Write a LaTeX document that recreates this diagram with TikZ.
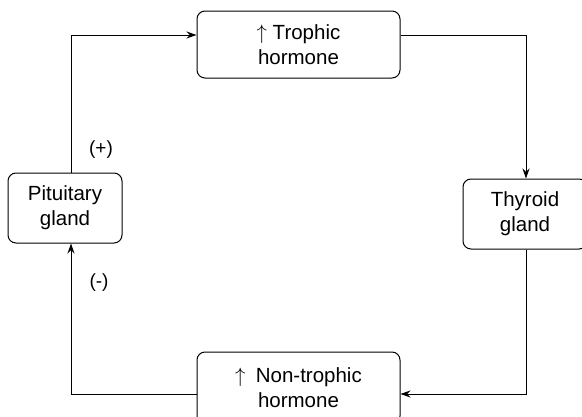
\documentclass[tikz,border=0pt]{standalone}
\usepackage{fontspec}
\setmainfont{Liberation Sans}
\usetikzlibrary{arrows.meta}
\begin{document}
\begin{tikzpicture}[x=1pt,y=-1pt,
  box/.style={draw, line width=1pt, rounded corners=8pt, align=center,
    font=\fontsize{20.5}{25}\selectfont, inner sep=0pt},
  conn/.style={line width=1pt, -{Stealth[length=10pt,width=7pt]}},
  sign/.style={font=\fontsize{19}{22}\selectfont, inner sep=0pt}]
\useasboundingbox (0,0) rectangle (582,416);
\clip (0,0) rectangle (582,416);
% boxes
\node[box, minimum width=203pt, minimum height=67pt] (troph) at (298.5,44.5) {$\uparrow$ Trophic\\hormone};
\node[box, minimum width=114pt, minimum height=70pt] (pit) at (65,208) {Pituitary\\gland};
\node[box, minimum width=124pt, minimum height=70pt] (thy) at (525,214) {Thyroid\\gland};
\node[box, minimum width=203pt, minimum height=72pt] (nont) at (298.5,388) {$\uparrow$\enspace Non-trophic\\hormone};
% routing lines
\coordinate (lx) at (71,0);
\coordinate (rx) at (526,0);
\coordinate (ty) at (0,35);
\coordinate (by) at (0,394);
% connectors
\draw[conn] (pit.north -| lx) |- (troph.west |- ty);
\draw[conn] (troph.east |- ty) -| (thy.north -| rx);
\draw[conn] (thy.south -| rx) |- (nont.east |- by);
\draw[conn] (nont.west |- by) -| (pit.south -| lx);
% signs
\node[sign] (plus) at (101,150) {(+)};
\node[sign] (minus) at (99,283) {(-)};
\end{tikzpicture}
\end{document}
